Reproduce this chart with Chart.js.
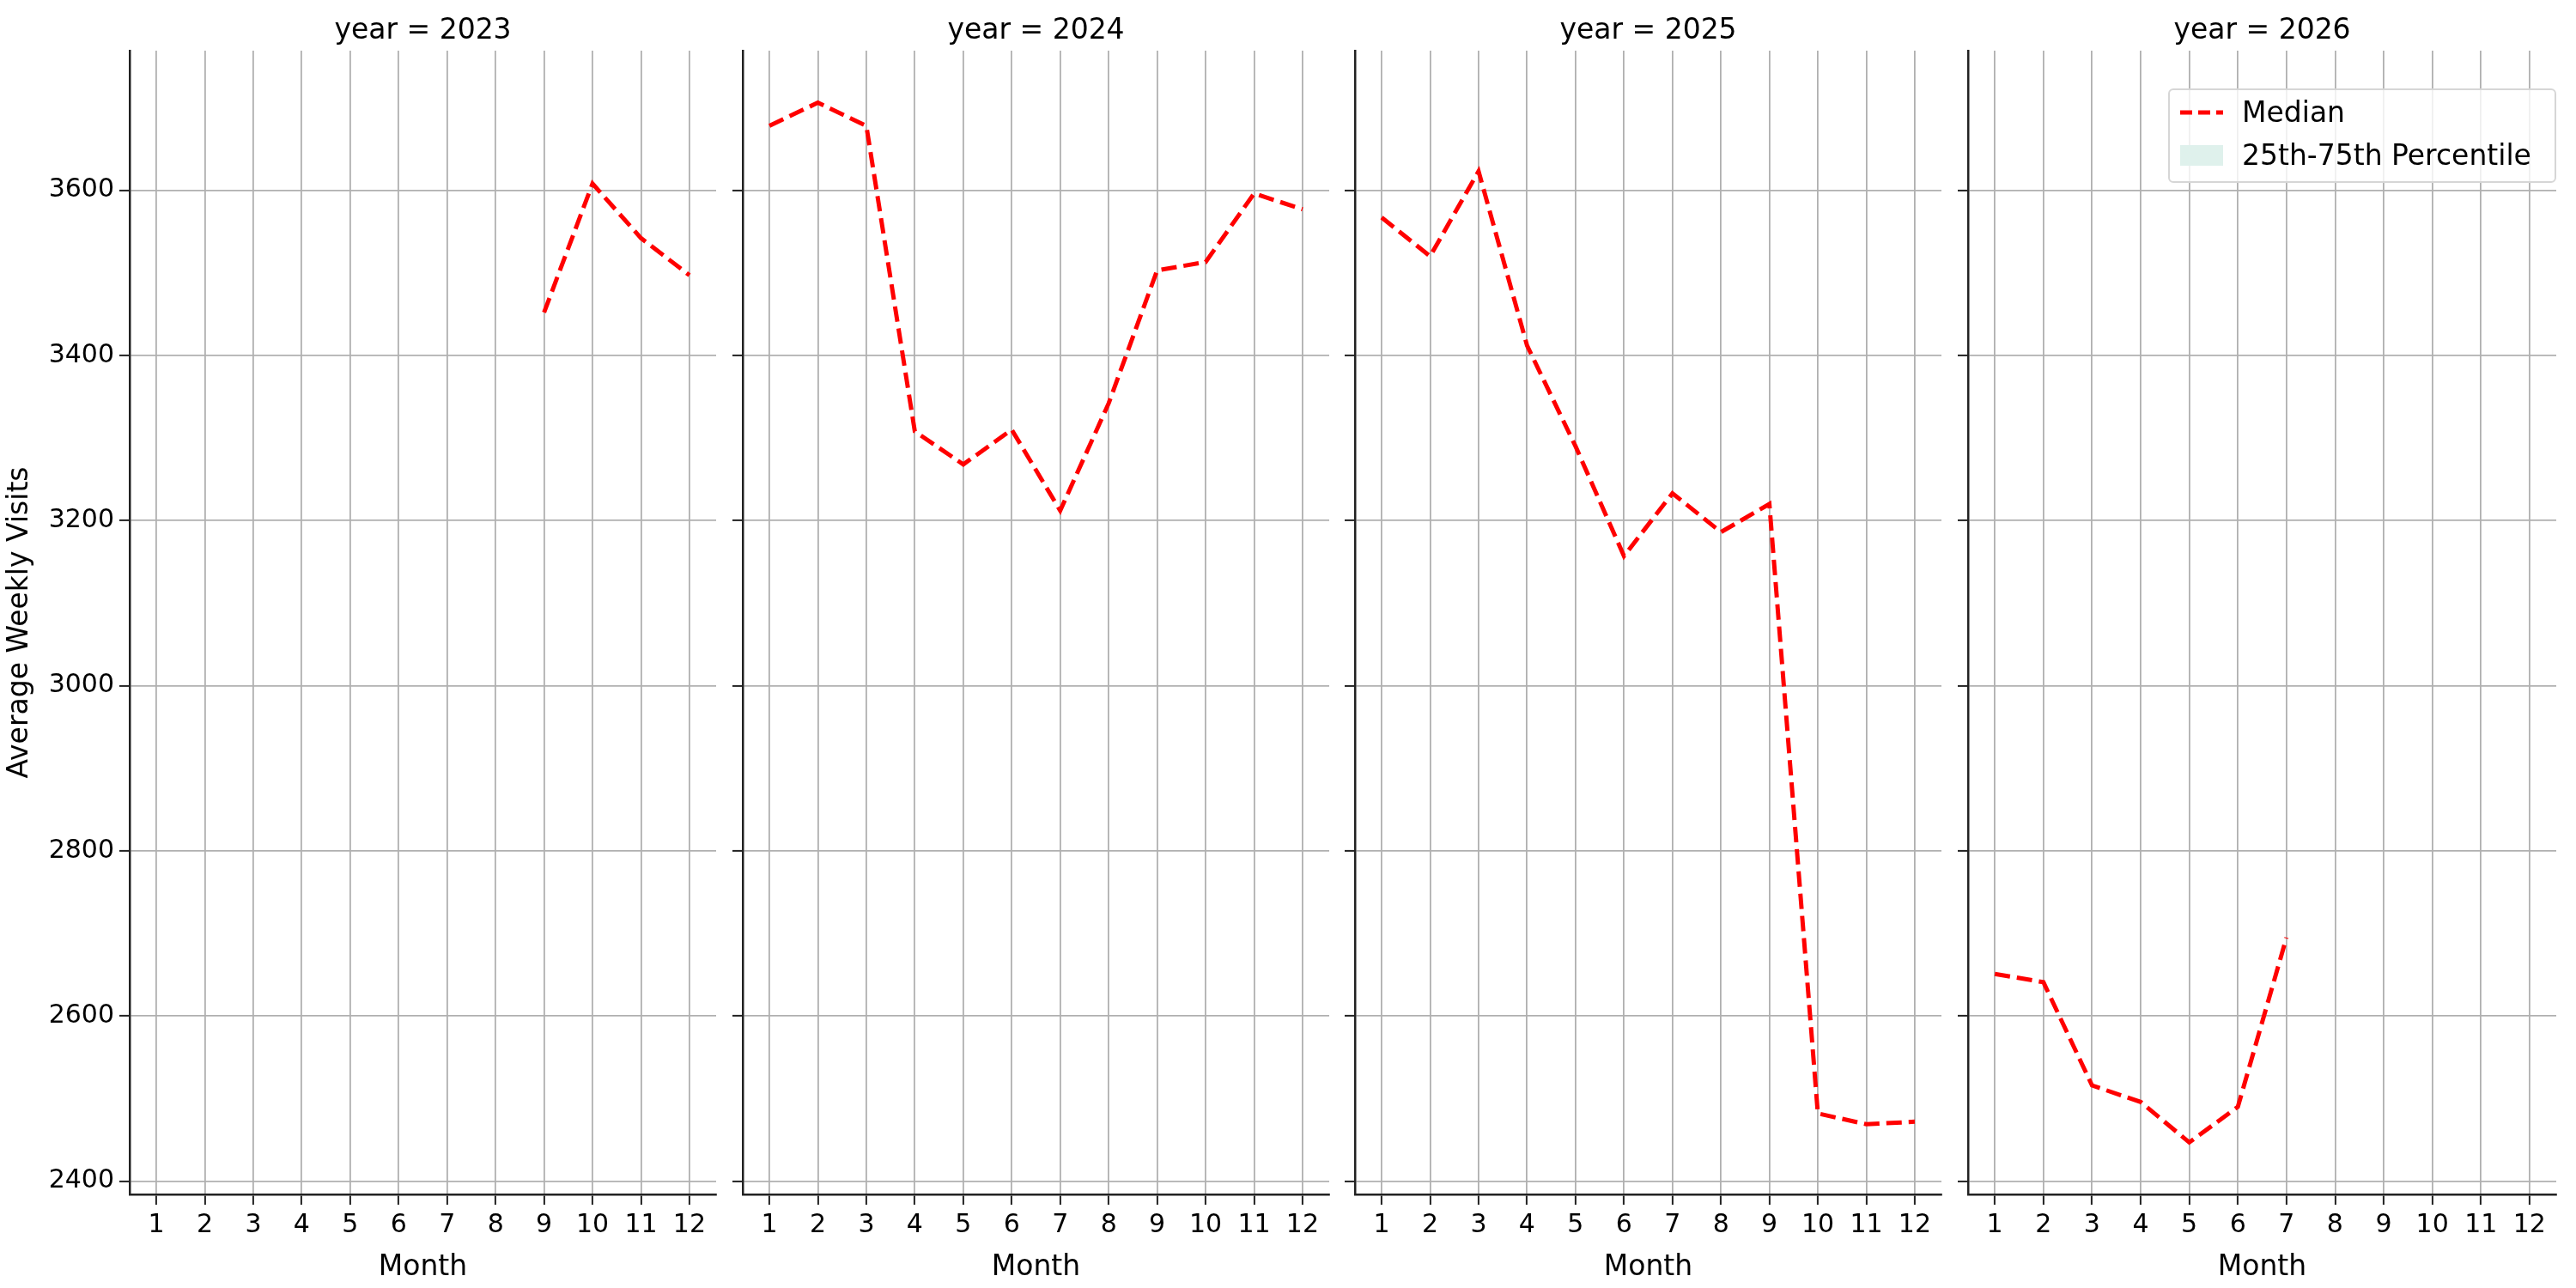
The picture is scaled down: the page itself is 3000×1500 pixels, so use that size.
<!DOCTYPE html>
<html>
<head>
<meta charset="utf-8">
<script src="https://cdn.jsdelivr.net/npm/chart.js@4.4.1/dist/chart.umd.min.js"></script>
<style>
  body { margin: 0; background: #fff; width: 3000px; height: 1500px; position: relative; overflow: hidden; font-family: "DejaVu Sans", sans-serif; }
  canvas { position: absolute; top: 0; }
  #legend { position: absolute; left: 2525px; top: 103px; width: 452px; height: 110px; border: 2px solid #d6d6d6; border-radius: 6px; background: rgba(255,255,255,0.8); font-size: 33px; box-sizing: border-box; z-index: 2; }
  .row { position: absolute; left: 12px; display: flex; align-items: center; }
  .row span { margin-left: 22px; }
</style>
</head>
<body>
<div id="legend">
  <div class="row" style="top:6px"><svg width="50" height="10"><line x1="0" y1="5" x2="50" y2="5" stroke="red" stroke-width="5" stroke-dasharray="14,7"/></svg><span>Median</span></div>
  <div class="row" style="top:56px"><div style="width:50px;height:24px;background:#dff1ec"></div><span>25th-75th Percentile</span></div>
</div>
<script>
const years = ["2023", "2024", "2025", "2026"];
const monthTicks = [1, 2, 3, 4, 5, 6, 7, 8, 9, 10, 11, 12];
const yTicks = [2400, 2600, 2800, 3000, 3200, 3400, 3600];

const months2023 = [9, 10, 11, 12];
const median2023 = [3452, 3608, 3542, 3497];
const months2024 = [1, 2, 3, 4, 5, 6, 7, 8, 9, 10, 11, 12];
const median2024 = [3678, 3706, 3678, 3308, 3268, 3310, 3212, 3342, 3503, 3513, 3596, 3577];
const months2025 = [1, 2, 3, 4, 5, 6, 7, 8, 9, 10, 11, 12];
const median2025 = [3567, 3520, 3623, 3412, 3290, 3157, 3233, 3186, 3220, 2482, 2469, 2472];
const months2026 = [1, 2, 3, 4, 5, 6, 7];
const median2026 = [2651, 2641, 2516, 2496, 2447, 2490, 2695];

const allMonths = [months2023, months2024, months2025, months2026];
const allMedian = [median2023, median2024, median2025, median2026];

// panel plot areas (left, right) in px
const panels = [[151, 834], [865, 1548], [1578, 2261], [2292, 2977]];
const TOP = 59, BOTTOM = 1391;

const titlePlugin = {
  id: "facetTitle",
  afterDraw(chart, args, opts) {
    const { ctx, chartArea } = chart;
    ctx.save();
    ctx.font = '33px "DejaVu Sans"';
    ctx.fillStyle = "#000";
    ctx.textAlign = "center";
    ctx.textBaseline = "middle";
    ctx.fillText(opts.text, (chartArea.left + chartArea.right) / 2, 36);
    ctx.restore();
  }
};

years.forEach((year, i) => {
  const [pl, pr] = panels[i];
  const axisW = i === 0 ? 151 : 20;
  const left = pl - axisW;
  const width = pr - left + 4;
  const canvas = document.createElement("canvas");
  canvas.style.left = left + "px";
  canvas.style.width = width + "px";
  canvas.style.height = "1500px";
  canvas.width = width;
  canvas.height = 1500;
  document.body.appendChild(canvas);

  const points = allMonths[i].map((m, k) => ({ x: m, y: allMedian[i][k] }));

  new Chart(canvas.getContext("2d"), {
    type: "line",
    data: {
      datasets: [{
        label: "Median",
        data: points,
        borderColor: "red",
        borderWidth: 5,
        borderDash: [18, 8],
        pointRadius: 0,
        fill: false,
        tension: 0
      }]
    },
    options: {
      responsive: false,
      animation: false,
      devicePixelRatio: 1,
      layout: { padding: { top: TOP, right: 4, left: 0, bottom: 0 } },
      plugins: {
        legend: { display: false },
        tooltip: { enabled: false },
        facetTitle: { text: "year = " + year }
      },
      scales: {
        x: {
          type: "linear",
          min: 0.45,
          max: 12.55,
          afterBuildTicks: (s) => { s.ticks = monthTicks.map((v) => ({ value: v })); },
          afterFit: (s) => { s.height = 1500 - BOTTOM; },
          ticks: { font: { size: 30, family: "DejaVu Sans" }, color: "#000", padding: 6, maxRotation: 0 },
          grid: { color: "#b0b0b0", lineWidth: 1.8, tickColor: "#222", tickLength: 12, tickWidth: 2 },
          border: { color: "#222", width: 2.5 },
          title: { display: true, text: "Month", font: { size: 33, family: "DejaVu Sans" }, color: "#000", padding: { top: 2 } }
        },
        y: {
          min: 2384,
          max: 3769,
          afterBuildTicks: (s) => { s.ticks = yTicks.map((v) => ({ value: v })); },
          afterFit: (s) => { s.width = axisW; },
          ticks: { display: i === 0, font: { size: 30, family: "DejaVu Sans" }, color: "#000", padding: 6, callback: (v) => String(v) },
          grid: { color: "#b0b0b0", lineWidth: 1.8, tickColor: "#222", tickLength: 12, tickWidth: 2 },
          border: { color: "#222", width: 2.5 },
          title: { display: i === 0, text: "Average Weekly Visits", font: { size: 33, family: "DejaVu Sans" }, color: "#000", padding: { bottom: 4 } }
        }
      }
    },
    plugins: [titlePlugin]
  });
});
</script>
</body>
</html>
